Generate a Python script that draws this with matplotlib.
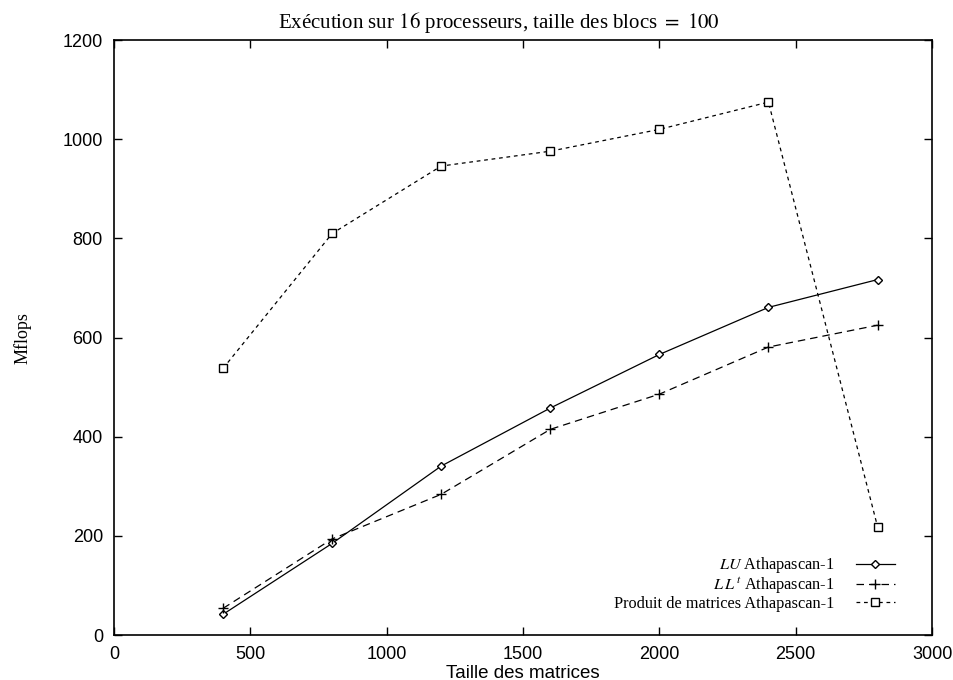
import matplotlib
matplotlib.use('Agg')
import matplotlib.pyplot as plt

plt.rcParams['mathtext.fontset'] = 'stix'

taille = [400, 800, 1200, 1600, 2000, 2400, 2800]
lu_mflops = [42, 185, 341, 458, 566, 661, 717]
llt_mflops = [54, 194, 284, 415, 486, 581, 625]
produit_mflops = [538, 810, 946, 976, 1020, 1075, 219]

serif = 'Liberation Serif'
sans = 'Liberation Sans'

fig = plt.figure(figsize=(9.54, 6.8), dpi=100)
ax = fig.add_axes([0.1195, 0.066, 0.8575, 0.875])

ax.plot(taille, lu_mflops, '-', marker='D', markersize=4.5, markerfacecolor='white',
        markeredgecolor='black', color='black', linewidth=0.9, label=r'$LU$ Athapascan-1')
ax.plot(taille, llt_mflops, linestyle=(0, (6, 4)), marker='+', markersize=7,
        color='black', linewidth=0.9, label=r'$L\,L^{\,t}$ Athapascan-1')
ax.plot(taille, produit_mflops, linestyle=(0, (3, 3)), marker='s', markersize=6,
        markerfacecolor='white', markeredgecolor='black', color='black', linewidth=0.9,
        label='Produit de matrices Athapascan-1')

ax.set_xlim(0, 3000)
ax.set_ylim(0, 1200)
ax.set_xticks(range(0, 3001, 500))
ax.set_yticks(range(0, 1201, 200))
ax.tick_params(direction='in', top=True, right=True, length=6, width=1, labelsize=13)
for lab in ax.get_xticklabels() + ax.get_yticklabels():
    lab.set_fontfamily(sans)
ax.tick_params(axis='x', pad=8)
ax.tick_params(axis='y', pad=8)
for sp in ax.spines.values():
    sp.set_linewidth(1.2)

ax.set_title(r'Exécution sur $16$ processeurs, taille des blocs $=\ 100$',
             fontfamily=serif, fontsize=15, pad=9, x=0.47)
ax.set_xlabel('Taille des matrices', fontfamily=sans, fontsize=13.5, labelpad=1)
ax.set_ylabel('Mflops', fontfamily=serif, fontsize=13, labelpad=22)

leg = ax.legend(loc='lower right', bbox_to_anchor=(0.972, 0.015), frameon=False,
                markerfirst=False, prop={'family': serif, 'size': 11.7},
                handlelength=2.35, labelspacing=0.0, handletextpad=1.35)

fig.savefig('out.png', dpi=100)
